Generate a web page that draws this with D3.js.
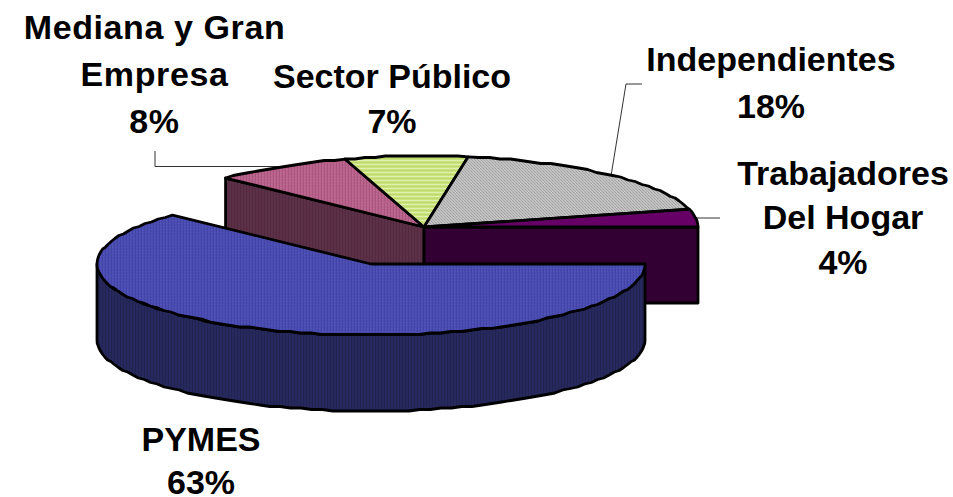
<!doctype html>
<html lang="es">
<head>
	<meta charset="utf-8">
	<title>Distribución por segmento</title>
	<script src="https://cdn.jsdelivr.net/npm/d3@7"></script>
	<style>
		html, body { margin: 0; background: #fff; }
		svg { display: block; }
		text { font-family: "Liberation Sans", Arial, sans-serif; font-weight: bold; font-size: 34px; fill: #000; text-anchor: middle; }
	</style>
</head>
<body>
	<div id="chart"></div>
	<script>
		// data
		var categories = ["PYMES", "Mediana y Gran Empresa", "Sector Público", "Independientes", "Trabajadores Del Hogar"];
		var values = [63, 8, 7, 18, 4];
		var labelLines = [["PYMES", "63%"], ["Mediana y Gran", "Empresa", "8%"], ["Sector Público", "7%"], ["Independientes", "18%"], ["Trabajadores", "Del Hogar", "4%"]];

		// layout
		var width = 953, height = 497;
		var rx = 274, ry = 71, depth = 76;
		var center = { x: 424, y: 227 };
		var explodedCenter = { x: 371, y: 264 };
		var labelX = [201, 154.5, 392, 771, 843];
		var labelY = [[451, 494], [39, 86, 133], [88, 133], [71, 118], [185, 229, 274]];
		var labelSpacing = [0, 0.6, 0, 0, 0];
		var topColors = ["url(#pPymes)", "url(#pMediana)", "url(#pSector)", "url(#pIndep)", "#660066"];

		var svg = d3.select("#chart").append("svg").attr("width", width).attr("height", height);

		// fill patterns, the old chart uses dithered fills
		var defs = svg.append("defs");
		function pattern(id, w, h, base, cells) {
			var p = defs.append("pattern").attr("id", id).attr("width", w).attr("height", h).attr("patternUnits", "userSpaceOnUse");
			p.append("rect").attr("width", w).attr("height", h).attr("fill", base);
			cells.forEach(function(c) {
				p.append("rect").attr("x", c[0]).attr("y", c[1]).attr("width", c[2]).attr("height", c[3]).attr("fill", c[4]);
			});
		}
		pattern("pPymes", 3, 3, "#4c4db3", [[0, 0, 1, 3, "#4345a6"], [1, 1, 1, 1, "#5556bd"]]);
		pattern("pMediana", 3, 3, "#b8628c", [[0, 0, 1, 3, "#a9567f"], [1, 1, 1, 1, "#c06c94"]]);
		pattern("pSector", 4, 4, "#cbe37c", [[0, 0, 4, 1, "#e0eeb0"], [0, 2, 4, 1, "#bfd96c"]]);
		pattern("pIndep", 3, 3, "#c2c2c2", [[0, 0, 1, 1, "#9f9f9f"], [1, 1, 1, 1, "#a8a8a8"], [2, 2, 1, 1, "#a8a8a8"]]);
		pattern("pPymesSide", 3, 3, "#27295e", [[0, 0, 1, 3, "#222450"]]);
		pattern("pMedianaFace", 3, 3, "#5c3147", [[0, 0, 1, 3, "#52293e"]]);

		var xScale = d3.scaleLinear().domain([-1, 1]).range([-rx, rx]);
		var yScale = d3.scaleLinear().domain([-1, 1]).range([ry, -ry]);

		var slices = d3.pie().sort(null).startAngle(Math.PI / 2).endAngle(Math.PI / 2 + 2 * Math.PI)(values);

		// the perspective of the 3d view pulls the back left boundaries round a little
		function warp(a) {
			return a - (1.9 * Math.PI / 180) * (1 - Math.sin(a));
		}
		function pt(c, a, dy) {
			return [c.x + xScale(Math.sin(a)), c.y + yScale(Math.cos(a)) + (dy || 0)];
		}
		// outline of the old chart is stepped, so snap the rim a bit
		function arcPoints(c, a0, a1, dy) {
			var n = Math.max(2, Math.ceil(Math.abs(a1 - a0) / 0.04));
			return d3.range(n + 1).map(function(i) {
				var p = pt(c, a0 + (a1 - a0) * i / n, dy);
				if (i === 0 || i === n) return p;
				return [p[0], Math.round(p[1] / 1.5) * 1.5];
			});
		}
		var line = d3.line();
		function poly(points, fill) {
			return svg.append("path")
				.attr("d", line(points) + "Z")
				.attr("fill", fill)
				.attr("stroke", "#000")
				.attr("stroke-width", 2.8)
				.attr("stroke-linejoin", "round");
		}
		function slicePoints(c, d) {
			return [[c.x, c.y]].concat(arcPoints(c, warp(d.startAngle), warp(d.endAngle)));
		}
		function face(c, a, fill) {
			var p = pt(c, a);
			poly([[c.x, c.y], p, [p[0], p[1] + depth], [c.x, c.y + depth]], fill);
		}

		// cut faces of the pie behind the pulled out slice
		face(center, warp(slices[1].startAngle), "url(#pMedianaFace)");
		face(center, warp(slices[4].endAngle), "#330033");

		// leader lines
		var leaders = [[[155, 151], [155, 166.5], [282, 166.5]], [[642, 84], [626, 84], [611, 176]], [[695, 218], [720, 218]]];
		leaders.forEach(function(l) {
			svg.append("path").attr("d", line(l)).attr("fill", "none").attr("stroke", "#333").attr("stroke-width", 1);
		});

		// top of the remaining slices
		[1, 2, 3, 4].forEach(function(i) {
			poly(slicePoints(center, slices[i]), topColors[i]);
		});

		// pulled out slice: wall first, top after
		var front = arcPoints(explodedCenter, Math.PI / 2, 3 * Math.PI / 2);
		var frontLow = arcPoints(explodedCenter, 3 * Math.PI / 2, Math.PI / 2, depth);
		poly(front.concat(frontLow), "url(#pPymesSide)");
		poly(slicePoints(explodedCenter, slices[0]), topColors[0]);

		// labels
		labelLines.forEach(function(lines, i) {
			var t = svg.append("text").attr("aria-label", categories[i]).style("letter-spacing", labelSpacing[i] + "px");
			lines.forEach(function(s, j) {
				t.append("tspan").attr("x", labelX[i]).attr("y", labelY[i][j]).text(s);
			});
		});
	</script>
</body>
</html>
